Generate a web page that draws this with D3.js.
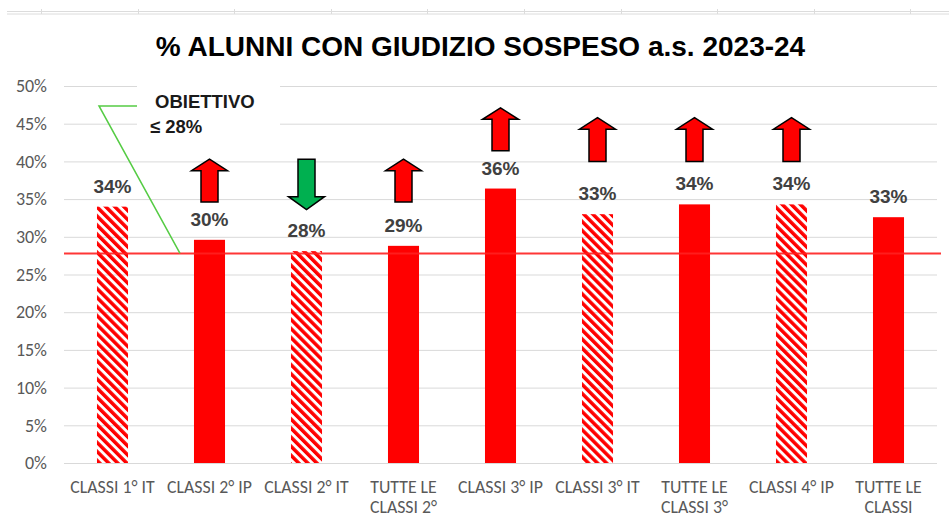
<!DOCTYPE html>
<html>
<head>
<meta charset="utf-8">
<script src="https://cdn.jsdelivr.net/npm/d3@7"></script>
<style>
  body { margin: 0; background: #fff; }
  svg { display: block; }
</style>
</head>
<body>
<div id="chart"></div>
<script>
// data
const categories = ['CLASSI 1° IT', 'CLASSI 2° IP', 'CLASSI 2° IT', 'TUTTE LE CLASSI 2°',
    'CLASSI 3° IP', 'CLASSI 3° IT', 'TUTTE LE CLASSI 3°', 'CLASSI 4° IP', 'TUTTE LE CLASSI'];
const values = [0.340, 0.296, 0.281, 0.288, 0.364, 0.330, 0.343, 0.343, 0.326];
const valueLabels = ['34%', '30%', '28%', '29%', '36%', '33%', '34%', '34%', '33%'];
const hatched = [true, false, true, false, false, true, false, true, false];
// trend arrows: direction plus top / bottom level (in % units)
const arrowDir = [null, 'up', 'down', 'up', 'up', 'up', 'up', 'up', null];
const arrowTop = [null, 0.403, 0.403, 0.403, 0.471, 0.458, 0.458, 0.458, null];
const arrowBottom = [null, 0.346, 0.336, 0.346, 0.414, 0.400, 0.400, 0.400, null];
const target = 0.278;
const yTicks = [0, 0.05, 0.10, 0.15, 0.20, 0.25, 0.30, 0.35, 0.40, 0.45, 0.50];
const title = '% ALUNNI CON GIUDIZIO SOSPESO a.s. 2023-24';

const W = 949, H = 517;
const margin = { top: 86, right: 12, bottom: 54, left: 64 };

const svg = d3.select('#chart').append('svg')
    .attr('width', W)
    .attr('height', H);

// stripes for the hatched bars
svg.append('defs').append('pattern')
    .attr('id', 'hatch')
    .attr('patternUnits', 'userSpaceOnUse')
    .attr('width', 6.4).attr('height', 6.4)
    .attr('patternTransform', 'rotate(-45)')
    .append('rect')
    .attr('width', 3.5).attr('height', 6.4)
    .attr('fill', '#ff0000');

// faint spreadsheet cell lines at the very top
const sheet = svg.append('g').attr('stroke', '#dcdcdc');
sheet.append('line').attr('x1', 7).attr('x2', W).attr('y1', 11.5).attr('y2', 11.5);
sheet.append('line').attr('x1', 7).attr('x2', W).attr('y1', 14).attr('y2', 14);
d3.range(10).forEach(function (i) {
    const cx = Math.round(41 + i * 96.6) + 0.5;
    sheet.append('line').attr('x1', cx).attr('x2', cx).attr('y1', 9).attr('y2', 14);
});

svg.append('text')
    .attr('x', 480.5).attr('y', 56)
    .attr('text-anchor', 'middle')
    .style('font-family', '"Liberation Sans", Arial, sans-serif')
    .style('font-weight', 'bold')
    .style('font-size', '28px')
    .attr('fill', '#000')
    .text(title);

const g = svg.append('g')
    .attr('transform', 'translate(' + margin.left + ',' + margin.top + ')');

const x = d3.scaleBand()
    .domain(categories)
    .range([0, 873])
    .padding(0);

const y = d3.scaleLinear()
    .domain([0, 0.5])
    .range([377, 0]);

// gridlines
g.append('g')
    .call(d3.axisLeft(y).tickValues(yTicks).tickSize(-873).tickFormat(''))
    .call(function (a) {
        a.select('.domain').remove();
        a.selectAll('line').attr('stroke', '#d9d9d9');
    });

// y tick labels
g.append('g')
    .call(d3.axisLeft(y).tickValues(yTicks).tickSize(0).tickPadding(17).tickFormat(d3.format('.0%')))
    .call(function (a) {
        a.select('.domain').remove();
        a.selectAll('text')
            .attr('fill', '#595959')
            .style('font-family', 'Carlito, Lato, sans-serif')
            .style('font-size', '18px');
    });

// category labels, wrapped on two lines
const xAxis = g.append('g')
    .attr('transform', 'translate(0,377)')
    .call(d3.axisBottom(x).tickSize(0).tickFormat(''));
xAxis.select('.domain').remove();
xAxis.selectAll('.tick').each(function (d) {
    const t = d3.select(this).append('text')
        .attr('text-anchor', 'middle')
        .attr('fill', '#595959')
        .style('font-family', 'Carlito, Lato, sans-serif')
        .style('font-size', '17.8px');
    const lines = d.startsWith('TUTTE LE') ? ['TUTTE LE', d.slice(9)] : [d];
    lines.forEach(function (l, i) {
        t.append('tspan').attr('x', 0).attr('y', 30 + i * 20).text(l);
    });
});

const barW = x.bandwidth() * 0.32;

// white box behind the target note
g.append('rect')
    .attr('x', 73).attr('y', -6)
    .attr('width', 143).attr('height', 60)
    .attr('fill', '#fff');

// bars
g.append('g')
    .selectAll('rect')
    .data(values)
    .enter().append('rect')
    .attr('x', function (d, i) { return x(categories[i]) + (x.bandwidth() - barW) / 2; })
    .attr('y', function (d) { return y(d); })
    .attr('width', barW)
    .attr('height', function (d) { return y(0) - y(d); })
    .attr('fill', function (d, i) { return hatched[i] ? 'url(#hatch)' : '#ff0000'; });

// target line
g.append('line')
    .attr('x1', 0).attr('x2', 877)
    .attr('y1', y(target)).attr('y2', y(target))
    .attr('stroke', '#ff2020')
    .attr('stroke-width', 2)
    .attr('stroke-opacity', 0.9);

// value labels
g.append('g')
    .selectAll('text')
    .data(values)
    .enter().append('text')
    .attr('x', function (d, i) { return x(categories[i]) + x.bandwidth() / 2; })
    .attr('y', function (d) { return y(d) - 14; })
    .attr('text-anchor', 'middle')
    .attr('fill', '#404040')
    .style('font-family', '"Liberation Sans", Arial, sans-serif')
    .style('font-weight', 'bold')
    .style('font-size', '19px')
    .text(function (d, i) { return valueLabels[i]; });

// arrows
function arrowPath(cx, yt, yb, dir) {
    const hw = 18, sw = 8.5;
    if (dir === 'up') {
        const hh = 11.5;
        return 'M' + cx + ',' + yt + 'L' + (cx + hw) + ',' + (yt + hh) + 'L' + (cx + sw) + ',' + (yt + hh) +
            'L' + (cx + sw) + ',' + yb + 'L' + (cx - sw) + ',' + yb + 'L' + (cx - sw) + ',' + (yt + hh) +
            'L' + (cx - hw) + ',' + (yt + hh) + 'Z';
    }
    const hh = 13;
    return 'M' + (cx - sw) + ',' + yt + 'L' + (cx + sw) + ',' + yt + 'L' + (cx + sw) + ',' + (yb - hh) +
        'L' + (cx + hw) + ',' + (yb - hh) + 'L' + cx + ',' + yb + 'L' + (cx - hw) + ',' + (yb - hh) +
        'L' + (cx - sw) + ',' + (yb - hh) + 'Z';
}
g.append('g')
    .selectAll('path')
    .data(arrowDir.map(function (d, i) { return { dir: d, i: i }; }).filter(function (d) { return d.dir; }))
    .enter().append('path')
    .attr('d', function (d) {
        return arrowPath(x(categories[d.i]) + x.bandwidth() / 2, y(arrowTop[d.i]), y(arrowBottom[d.i]), d.dir);
    })
    .attr('fill', function (d) { return d.dir === 'up' ? '#ff0000' : '#00b050'; })
    .attr('stroke', '#000')
    .attr('stroke-width', 1.5)
    .attr('stroke-linejoin', 'miter');

// target note with leader line
g.append('path')
    .attr('d', 'M73,' + (y(0.4735)) + 'H35L116,' + y(target))
    .attr('fill', 'none')
    .attr('stroke', '#55cc44')
    .attr('stroke-width', 1.5);

const note = g.append('text')
    .attr('fill', '#1a1a1a')
    .style('font-family', '"Liberation Sans", Arial, sans-serif')
    .style('font-weight', 'bold')
    .style('font-size', '18.5px');
note.append('tspan').attr('x', 91).attr('y', 22).text('OBIETTIVO');
note.append('tspan').attr('x', 86).attr('y', 47).text('≤ 28%');
</script>
</body>
</html>
